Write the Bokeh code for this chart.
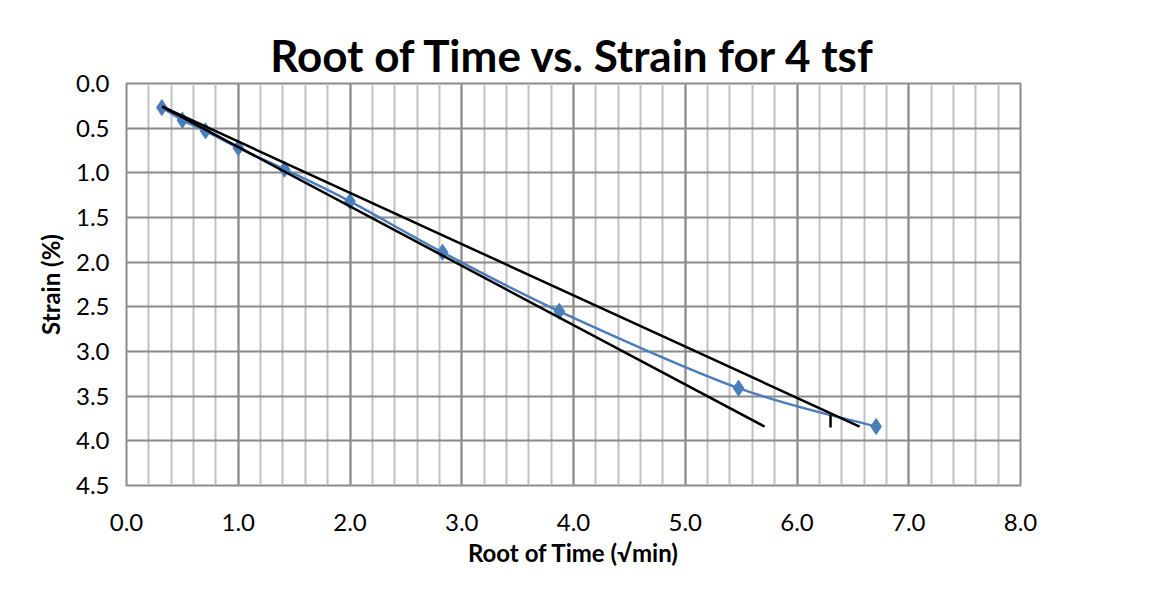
from bokeh.plotting import figure
from bokeh.models import Range1d, SingleIntervalTicker, NumeralTickFormatter, Title
from bokeh.embed import file_html
from bokeh.resources import INLINE

# Data
root_time = [0.316, 0.500, 0.707, 1.000, 1.414, 2.000, 2.828, 3.873, 5.477, 6.708]
strain = [0.27, 0.41, 0.53, 0.72, 0.96, 1.32, 1.89, 2.55, 3.41, 3.84]

# construction lines (Taylor's root-time method)
line_a_x = [0.32, 5.71]
line_a_y = [0.26, 3.84]
line_b_x = [0.32, 6.56]
line_b_y = [0.26, 3.84]
t90_x = [6.30, 6.30]
t90_y = [3.71, 3.85]

title = "Root of Time vs. Strain for 4 tsf"
x_label = "Root of Time (\u221amin)"
y_label = "Strain (%)"

FONT = "Lato"
BLUE = "#4a7ebb"

p = figure(width=1139, height=575, output_backend="svg", toolbar_location=None,
           x_range=Range1d(0, 8), y_range=Range1d(4.5, 0),
           min_border_left=126, min_border_right=119, min_border_top=83, min_border_bottom=90)

p.title.text = title
p.title.align = "center"
p.title.text_font = FONT
p.title.text_font_size = "44px"
p.title.text_font_style = "bold"
p.title.text_color = "#000000"
p.title.standoff = 6

p.xaxis.ticker = SingleIntervalTicker(interval=1, num_minor_ticks=5)
p.yaxis.ticker = SingleIntervalTicker(interval=0.5, num_minor_ticks=0)
p.xaxis.formatter = NumeralTickFormatter(format="0.0")
p.yaxis.formatter = NumeralTickFormatter(format="0.0")

for ax in (p.xaxis, p.yaxis):
    ax.major_tick_line_color = None
    ax.minor_tick_line_color = None
    ax.major_tick_out = 0
    ax.major_tick_in = 0
    ax.minor_tick_out = 0
    ax.minor_tick_in = 0
    ax.axis_line_color = None
    ax.major_label_text_font = FONT
    ax.major_label_text_font_size = "24px"
    ax.major_label_text_color = "#000000"
    ax.axis_label_text_font = FONT
    ax.axis_label_text_font_style = "bold"
    ax.axis_label_text_color = "#000000"

p.yaxis.axis_label = y_label
p.yaxis.axis_label_text_font_size = "24px"
p.xaxis.major_label_standoff = 28
p.yaxis.major_label_standoff = 17
p.yaxis.axis_label_standoff = 8

# x-axis title, placed slightly right of centre as in the original
xt = Title(text=x_label, align="center", offset=13, standoff=4,
           text_font=FONT, text_font_size="24px", text_font_style="bold",
           text_color="#000000")
p.add_layout(xt, "below")

p.xgrid.grid_line_color = "#8a8a8a"
p.xgrid.grid_line_width = 2
p.xgrid.minor_grid_line_color = "#c0c0c0"
p.xgrid.minor_grid_line_width = 2
p.ygrid.grid_line_color = "#8a8a8a"
p.ygrid.grid_line_width = 2
p.outline_line_color = "#8a8a8a"
p.outline_line_width = 2
p.background_fill_color = "white"
p.border_fill_color = "white"

# smoothed series line (Catmull-Rom style Bezier through data points)
n = len(root_time)
x0s, y0s, x1s, y1s, cx0, cy0, cx1, cy1 = [], [], [], [], [], [], [], []
for i in range(n - 1):
    pm = i - 1 if i > 0 else i
    pp = i + 2 if i + 2 < n else i + 1
    x0s.append(root_time[i]); y0s.append(strain[i])
    x1s.append(root_time[i + 1]); y1s.append(strain[i + 1])
    cx0.append(root_time[i] + (root_time[i + 1] - root_time[pm]) / 6)
    cy0.append(strain[i] + (strain[i + 1] - strain[pm]) / 6)
    cx1.append(root_time[i + 1] - (root_time[pp] - root_time[i]) / 6)
    cy1.append(strain[i + 1] - (strain[pp] - strain[i]) / 6)

p.bezier(x0=x0s, y0=y0s, x1=x1s, y1=y1s, cx0=cx0, cy0=cy0, cx1=cx1, cy1=cy1,
         line_color=BLUE, line_width=2.5)
p.scatter(root_time, strain, marker="diamond", size=16, fill_color=BLUE, line_color=BLUE)

p.line(line_a_x, line_a_y, line_color="black", line_width=2.5)
p.line(line_b_x, line_b_y, line_color="black", line_width=2.5)
p.line(t90_x, t90_y, line_color="black", line_width=2.5)

open("out.html", "w").write(file_html(p, INLINE))
